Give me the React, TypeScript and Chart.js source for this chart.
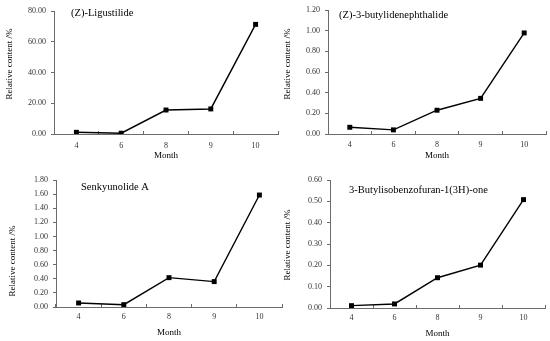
import React, { useEffect, useRef } from 'react';
import { Chart, registerables } from 'chart.js';

Chart.register(...registerables);

// ---- data ----
const months = ['4', '6', '8', '9', '10'];
const ligustilide = [1.1, 0.5, 15.6, 16.3, 71.3];
const butylidenephthalide = [0.065, 0.04, 0.23, 0.345, 0.978];
const senkyunolideA = [0.057, 0.033, 0.416, 0.36, 1.587];
const butylisobenzofuranone = [0.011, 0.019, 0.142, 0.201, 0.508];

const panelTitles = [
  '(Z)-Ligustilide',
  '(Z)-3-butylidenephthalide',
  'Senkyunolide A',
  '3-Butylisobenzofuran-1(3H)-one',
];
const yMaxes = [80, 1.2, 1.8, 0.6];
const ySteps = [20, 0.2, 0.2, 0.1];
const xAxisTitle = 'Month';
const yAxisTitle = 'Relative content /%';

const seriesList = [ligustilide, butylidenephthalide, senkyunolideA, butylisobenzofuranone];

// ---- layout (positions only) ----
const layouts = [
  { x: 0, y: 0, w: 282, h: 170, padTop: 11, yw: 54, xh: 36, xLabPad: 10, xTitlePad: 9, tx: 71, ty: 13, ytx: 10, yty: 64 },
  { x: 275, y: 0, w: 275, h: 170, padTop: 10, yw: 53, xh: 36, xLabPad: 9, xTitlePad: 9, tx: 64, ty: 15, ytx: 13, yty: 64 },
  { x: 0, y: 170, w: 286, h: 171, padTop: 10, yw: 56, xh: 34, xLabPad: 8, xTitlePad: 2.5, tx: 81, ty: 17, ytx: 12.5, yty: 91 },
  { x: 275, y: 170, w: 274, h: 171, padTop: 10, yw: 55, xh: 33, xLabPad: 8.5, xTitlePad: 2, tx: 74, ty: 20, ytx: 13, yty: 75 },
];

const FONT = '"Liberation Serif", "Times New Roman", serif';
const AXIS_COLOR = '#6b6b6b';
const TICK_COLOR = '#333333';

const panelTextPlugin = {
  id: 'panelText',
  afterDraw(chart: any, _args: any, opts: any) {
    const ctx = chart.ctx;
    ctx.save();
    ctx.font = `10.5px ${FONT}`;
    ctx.fillStyle = '#000';
    ctx.textAlign = 'left';
    ctx.textBaseline = 'middle';
    ctx.fillText(opts.title, opts.tx, opts.ty);
    ctx.translate(opts.ytx, opts.yty);
    ctx.rotate(-Math.PI / 2);
    ctx.font = `9px ${FONT}`;
    ctx.textAlign = 'center';
    ctx.fillText(opts.yTitle, 0, 0);
    ctx.restore();
  },
};

function Panel({ idx }: { idx: number }) {
  const ref = useRef<HTMLCanvasElement | null>(null);
  const L = layouts[idx];
  useEffect(() => {
    const chart = new Chart(ref.current as HTMLCanvasElement, {
      type: 'line',
      data: {
        labels: months,
        datasets: [
          {
            data: seriesList[idx],
            borderColor: '#000',
            backgroundColor: '#000',
            borderWidth: 1.4,
            tension: 0,
            pointStyle: 'rect',
            pointRadius: 3.5,
            pointBorderWidth: 0,
            pointBackgroundColor: '#000',
          },
        ],
      },
      options: {
        responsive: false,
        animation: false,
        devicePixelRatio: 1,
        layout: { padding: { top: L.padTop, left: 0, right: 0, bottom: 0 } },
        plugins: {
          legend: { display: false },
          tooltip: { enabled: false },
          panelText: {
            title: panelTitles[idx],
            tx: L.tx,
            ty: L.ty,
            yTitle: yAxisTitle,
            ytx: L.ytx,
            yty: L.yty,
          },
        } as any,
        scales: {
          x: {
            type: 'category',
            offset: true,
            grid: {
              offset: true,
              drawOnChartArea: false,
              drawTicks: true,
              tickLength: -3,
              color: AXIS_COLOR,
            },
            border: { display: true, color: AXIS_COLOR, width: 1 },
            ticks: {
              color: TICK_COLOR,
              font: { family: FONT, size: 8, lineHeight: 1.2 },
              padding: L.xLabPad,
              maxRotation: 0,
            },
            title: {
              display: true,
              text: xAxisTitle,
              color: '#000',
              font: { family: FONT, size: 9, lineHeight: 1.2 },
              padding: { top: 0, bottom: L.xTitlePad },
            },
            afterFit: (s: any) => {
              s.height = L.xh;
            },
          },
          y: {
            min: 0,
            max: yMaxes[idx],
            grid: {
              drawOnChartArea: false,
              drawTicks: true,
              tickLength: 3,
              color: AXIS_COLOR,
            },
            border: { display: true, color: AXIS_COLOR, width: 1 },
            ticks: {
              stepSize: ySteps[idx],
              color: TICK_COLOR,
              font: { family: FONT, size: 8, lineHeight: 1.2 },
              padding: 5,
              callback: (v: any) => Number(v).toFixed(2),
            },
            title: { display: false, text: yAxisTitle },
            afterFit: (s: any) => {
              s.width = L.yw;
            },
          },
        },
      },
      plugins: [panelTextPlugin],
    });
    return () => chart.destroy();
  }, []);
  return (
    <canvas
      ref={ref}
      width={L.w}
      height={L.h}
      style={{ position: 'absolute', left: L.x, top: L.y, width: L.w, height: L.h }}
    />
  );
}

export default function App() {
  return (
    <div
      style={{
        position: 'fixed',
        left: 0,
        top: 0,
        width: 550,
        height: 341,
        background: '#fff',
        overflow: 'hidden',
      }}
    >
      {[0, 1, 2, 3].map((i) => (
        <Panel key={i} idx={i} />
      ))}
    </div>
  );
}
